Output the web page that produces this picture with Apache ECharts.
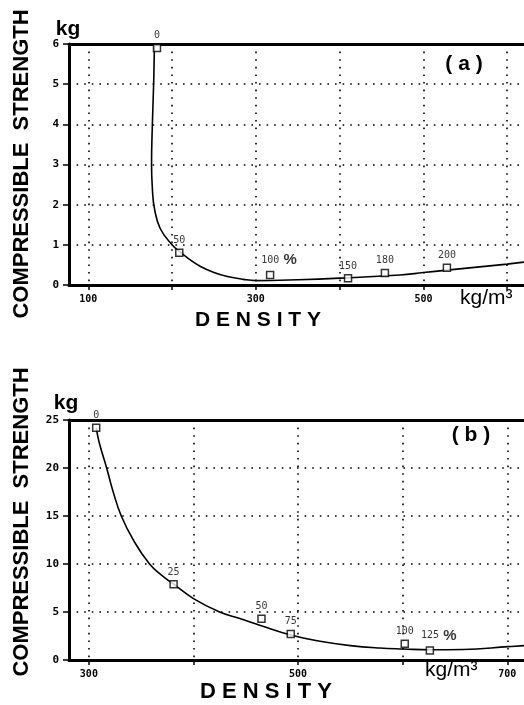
<!DOCTYPE html>
<html>
<head>
<meta charset="utf-8">
<script src="https://cdn.jsdelivr.net/npm/echarts@6/dist/echarts.min.js"></script>
<style>
    html, body { margin: 0; padding: 0; background: #fff; }
    #chart { width: 524px; height: 705px; }
</style>
</head>
<body>
<div id="chart"></div>
<script>
// panel (a) - fitted curve, measured points, point tags (%)
var curveA = [[179, 6.0], [178, 5], [176.5, 4], [175.5, 3], [176.5, 2.4], [179, 1.9], [186, 1.4], [200, 1.0],
    [209, 0.83], [220, 0.65], [234, 0.46], [250, 0.31], [266, 0.21], [285, 0.14], [300, 0.11],
    [350, 0.13], [400, 0.17], [472, 0.25], [500, 0.31], [528, 0.37], [600, 0.52], [620, 0.57]];
var pointsA = [[182, 5.9], [208.6, 0.8], [317, 0.25], [410, 0.17], [454, 0.3], [528, 0.43]];
var tagsA = ['0', '50', '100', '150', '180', '200'];
var pctA = '100';
var xTicksA = [100, 200, 300, 400, 500, 600];
var xLabelsA = [100, 300, 500];

// panel (b)
var curveB = [[307, 24.2], [310, 22.6], [317, 20], [323, 17.6], [331, 15], [343, 12.4], [358, 10],
    [370, 8.8], [381, 7.9], [400, 6.4], [425, 5.0], [445, 4.3], [464, 3.6], [493, 2.6], [521, 1.95],
    [550, 1.5], [578, 1.25], [601, 1.15], [626, 1.07], [658, 1.1], [701, 1.39], [716, 1.5]];
var pointsB = [[307, 24.2], [381, 7.9], [465, 4.3], [493, 2.7], [602, 1.7], [626, 1.0]];
var tagsB = ['0', '25', '50', '75', '100', '125'];
var pctB = '125';
var xTicksB = [300, 400, 500, 600, 700];
var xLabelsB = [300, 500, 700];

var numFont = 'DejaVu Sans Mono';
var textFont = 'Liberation Sans';
var dots = { color: '#000', width: 1.6, type: [1.6, 6] };

function bottomAxis(idx, min, max, ticks, labels) {
    return {
        type: 'value', gridIndex: idx, min: min, max: max, position: 'bottom',
        axisLine: { show: true, lineStyle: { color: '#000', width: 3 } },
        axisTick: { show: true, length: 5, customValues: ticks, lineStyle: { color: '#000', width: 1.5 } },
        axisLabel: { customValues: labels, margin: 9, color: '#000', fontFamily: numFont, fontWeight: 'bold', fontSize: 10 },
        splitLine: { show: true, lineStyle: dots }
    };
}

function topAxis(idx, min, max) {
    return {
        type: 'value', gridIndex: idx, min: min, max: max, position: 'top',
        axisLine: { show: true, lineStyle: { color: '#000', width: 3 } },
        axisTick: { show: false }, axisLabel: { show: false }, splitLine: { show: false }
    };
}

function leftAxis(idx, max, step) {
    return {
        type: 'value', gridIndex: idx, min: 0, max: max, interval: step,
        axisLine: { show: true, lineStyle: { color: '#000', width: 3 } },
        axisTick: { show: true, length: 6, lineStyle: { color: '#000', width: 1.5 } },
        axisLabel: { margin: 10, color: '#000', fontFamily: numFont, fontWeight: 'bold', fontSize: 11 },
        splitLine: { show: true, lineStyle: dots }
    };
}

function pointSeries(idx, pts, tags, pct) {
    return {
        type: 'scatter', xAxisIndex: idx * 2, yAxisIndex: idx,
        symbol: 'rect', symbolSize: 7, z: 5,
        itemStyle: { color: '#fff', borderColor: '#000', borderWidth: 1.5 },
        data: _map(pts, function (p, i) {
            var d = { value: p, name: tags[i] };
            if (tags[i] === pct) d.label = { offset: [9, 0] };
            return d;
        }),
        label: {
            show: true, position: 'top', distance: 3, color: '#000',
            fontFamily: numFont, fontSize: 10,
            formatter: function (p) {
                return p.name === pct ? '{n|' + p.name + '}{s| %}' : p.name;
            },
            rich: {
                n: { fontFamily: numFont, fontSize: 10, color: '#000' },
                s: { fontFamily: textFont, fontWeight: 'bold', fontSize: 15, color: '#000' }
            }
        }
    };
}

function curveSeries(idx, pts) {
    return {
        type: 'line', xAxisIndex: idx * 2, yAxisIndex: idx,
        smooth: 0.45, showSymbol: false, symbol: 'none',
        lineStyle: { color: '#000', width: 1.6 },
        data: pts
    };
}

function _map(arr, fn) {
    var out = [];
    for (var i = 0; i < arr.length; i++) out.push(fn(arr[i], i));
    return out;
}

function txt(x, y, s, size, opts) {
    var st = {
        text: s, fontFamily: textFont, fontWeight: 'bold', fontSize: size, fill: '#000',
        textAlign: 'center', textVerticalAlign: 'middle'
    };
    for (var k in (opts || {})) st[k] = opts[k];
    return { type: 'text', x: x, y: y, style: st };
}

var option = {
    animation: false,
    backgroundColor: '#fff',
    grid: [
        { left: 69, top: 44, width: 455, height: 241 },
        { left: 69, top: 420, width: 455, height: 240 }
    ],
    xAxis: [
        bottomAxis(0, 77, 620, xTicksA, xLabelsA),
        topAxis(0, 77, 620),
        bottomAxis(1, 281, 716, xTicksB, xLabelsB),
        topAxis(1, 281, 716)
    ],
    yAxis: [leftAxis(0, 6, 1), leftAxis(1, 25, 5)],
    series: [
        curveSeries(0, curveA), pointSeries(0, pointsA, tagsA, pctA),
        curveSeries(1, curveB), pointSeries(1, pointsB, tagsB, pctB)
    ],
    graphic: [
        {
            type: 'text', x: 22, y: 164, rotation: Math.PI / 2,
            style: { text: 'COMPRESSIBLE  STRENGTH', fontFamily: textFont, fontWeight: 'bold', fontSize: 22,
                fill: '#000', textAlign: 'center', textVerticalAlign: 'middle' }
        },
        {
            type: 'text', x: 22, y: 522, rotation: Math.PI / 2,
            style: { text: 'COMPRESSIBLE  STRENGTH', fontFamily: textFont, fontWeight: 'bold', fontSize: 22,
                fill: '#000', textAlign: 'center', textVerticalAlign: 'middle' }
        },
        txt(68, 29, 'kg', 21),
        txt(66, 403, 'kg', 21),
        txt(258, 320, 'D E N S I T Y', 21),
        txt(266, 692, 'D E N S I T Y', 22),
        txt(460, 298, 'kg/m³', 21, { textAlign: 'left', fontWeight: 'normal' }),
        txt(425, 670, 'kg/m³', 21, { textAlign: 'left', fontWeight: 'normal' }),
        txt(464, 64, '( a )', 21),
        txt(471, 435, '( b )', 21)
    ]
};

var chart = echarts.init(document.getElementById('chart'));
chart.setOption(option);
</script>
</body>
</html>
